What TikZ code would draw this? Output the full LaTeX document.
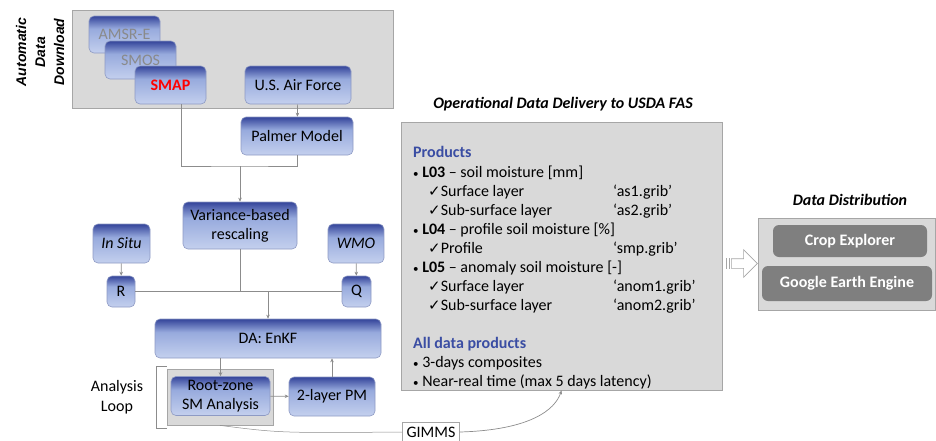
\documentclass[tikz,border=0pt]{standalone}
\usepackage{fontspec}
\setmainfont{Carlito}
\newfontfamily\arialfont{Liberation Sans}
\newfontfamily\symfont{DejaVu Sans}
\usetikzlibrary{arrows.meta,positioning,calc,shapes.arrows}
\definecolor{BlueTop}{HTML}{34449A}
\definecolor{BlueMid}{HTML}{97AADD}
\definecolor{BlueBot}{HTML}{C4D0EE}
\definecolor{BoxLine}{HTML}{8E9AC4}
\definecolor{PanelGray}{HTML}{D9D9D9}
\definecolor{PanelLine}{HTML}{A6A6A6}
\definecolor{LinkGray}{HTML}{8C8C8C}
\definecolor{DarkGray}{HTML}{7F7F7F}
\definecolor{HeadBlue}{HTML}{3A4DA3}
\definecolor{FadeText}{HTML}{8A8A8A}
\pgfdeclareverticalshading{boxshade}{100bp}{color(0bp)=(BlueBot); color(25bp)=(BlueBot); color(58bp)=(BlueMid); color(75bp)=(BlueTop); color(100bp)=(BlueTop)}
\newcommand{\okmark}{{\symfont\fontsize{15}{15}\selectfont ✓}}
\newcommand{\smbul}{{\fontsize{11}{11}\selectfont\textbullet}\ }
\newcommand{\filecol}[2]{\makebox[200pt][l]{\hspace*{15pt}\okmark #1}#2}

\begin{document}
\begin{tikzpicture}[x=1pt,y=-1pt,
      blk/.style={draw=BoxLine,line width=0.6pt,rounded corners=5pt,
                  shading=boxshade,align=center,inner sep=1pt,
                  font=\fontsize{16}{19}\selectfont},
      panel/.style={draw=PanelLine,fill=PanelGray,line width=0.8pt},
      grayblk/.style={fill=DarkGray,rounded corners=6pt,text=white,
                      font=\fontsize{16}{19}\selectfont\bfseries},
      ttl/.style={font=\fontsize{16}{19}\selectfont\bfseries\itshape},
      link/.style={draw=LinkGray,line width=0.7pt},
      arr/.style={link,-{Stealth[length=4pt,width=3.5pt]}},
    ]
    \useasboundingbox (0,0) rectangle (936,440);

    % automatic download
    \node[panel,minimum width=321,minimum height=98] (dlpanel) at (232.5,59) {};
    \node[rotate=90,align=center,inner sep=0,
          font=\arialfont\fontsize{14}{19}\selectfont\bfseries\itshape] (dltitle) at (40,52)
         {Automatic\\Data\\Download};
    \node[blk,minimum width=71,minimum height=37,text=FadeText] (amsr) at (124.5,34.5) {AMSR-E};
    \node[blk,minimum width=71,minimum height=38,text=FadeText] (smos) at (140.5,60) {SMOS};
    \node[blk,minimum width=71,minimum height=38,text=red,font=\fontsize{16}{19}\selectfont\bfseries] (smap) at (170.5,85) {SMAP};
    \node[blk,minimum width=106,minimum height=38] (usaf) at (298,85) {U.S. Air Force};
    \node[blk,minimum width=112,minimum height=38] (palmer) at (297,136) {Palmer Model};

    % rescaling and errors
    \node[blk,minimum width=114,minimum height=47] (vbr) at (240,225.5) {Variance-based\\rescaling};
    \node[blk,minimum width=57,minimum height=39,font=\fontsize{16}{19}\selectfont\itshape] (insitu) at (121.5,243.5) {In Situ};
    \node[blk,minimum width=56,minimum height=39,font=\fontsize{16}{19}\selectfont\itshape] (wmo) at (356,243.5) {WMO};
    \node[blk,minimum width=28,minimum height=31] (rerr) at (121,291.5) {R};
    \node[blk,minimum width=29,minimum height=31] (qerr) at (356.5,291.5) {Q};

    % assimilation loop
    \node[blk,minimum width=226,minimum height=39] (enkf) at (268,338.5) {DA: EnKF};
    \node[panel,minimum width=106,minimum height=56] (loopbox) at (220,397) {};
    \node[blk,minimum width=99,minimum height=39] (rzsm) at (220.5,396) {Root-zone\\SM Analysis};
    \node[blk,minimum width=86,minimum height=39] (pm) at (332,396.5) {2-layer PM};
    \node[align=center,font=\fontsize{16}{20}\selectfont] (looplbl) at (117,397) {Analysis\\Loop};
    \node[draw=PanelLine,fill=white,line width=0.6pt,minimum width=57,minimum height=20,
          inner sep=1pt,font=\fontsize{16}{19}\selectfont] (gimms) at (431,432) {GIMMS};

    % connectors
    \coordinate (merge) at (240,166);
    \draw[link] ([xshift=11pt]smap.south) |- (merge) -| (palmer.south);
    \draw[arr] (merge) -- (vbr.north);
    \draw[arr] (usaf) -- (palmer);
    \draw[arr] (insitu) -- (rerr);
    \draw[arr] (wmo) -- (qerr);
    \draw[link] (rerr.east) -- (qerr.west);
    \draw[link] (vbr.south) -- (vbr.south |- rerr.east);
    \draw[arr] (enkf.north |- rerr.east) -- (enkf.north);
    \draw[arr] (enkf.south -| rzsm.north) -- (rzsm.north);
    \draw[arr] (rzsm) -- (pm);
    \draw[arr] (pm.north) -- (pm.north |- enkf.south);
    \draw[link,line width=0.5pt] ([yshift=2pt]loopbox.north west) -- ++(-10,0)
          |- ([yshift=-3pt]loopbox.south west);
    \draw[link,line width=0.5pt] (loopbox.south) .. controls (280,433) .. (gimms.west);

    % delivery
    \node[ttl] (deltitle) at (563,104) {Operational Data Delivery to USDA FAS};
    \node[panel,minimum width=321,minimum height=268] (prod) at (561.5,256) {};
    \node[anchor=north west,inner sep=0,align=left,font=\fontsize{16}{19}\selectfont] (prodtext) at (413,146) {%
      {\color{HeadBlue}\bfseries Products}\\[1pt]
      \smbul\textbf{L03} -- soil moisture [mm]\\
      \filecol{Surface layer}{‘as1.grib’}\\
      \filecol{Sub-surface layer}{‘as2.grib’}\\
      \smbul\textbf{L04} -- profile soil moisture [\%]\\
      \filecol{Profile}{‘smp.grib’}\\
      \smbul\textbf{L05} -- anomaly soil moisture [-]\\
      \filecol{Surface layer}{‘anom1.grib’}\\
      \filecol{Sub-surface layer}{‘anom2.grib’}\\[19pt]
      {\color{HeadBlue}\bfseries All data products}\\
      \smbul 3-days composites\\
      \smbul Near-real time (max 5 days latency)};
    \draw[arr] (gimms.east) .. controls (530,430) and (555,410) .. (prod.south);

    % distribution
    \node[single arrow,draw=PanelLine,fill=white,line width=0.6pt,minimum height=26,
          inner xsep=0,inner ysep=4.5pt,single arrow head extend=9pt] (deliver) at (742,263.5) {};
    \draw[draw=PanelLine,line width=0.6pt] ([xshift=-2pt]deliver.after tail) -- ([xshift=-2pt]deliver.before tail)
          ([xshift=-4.5pt]deliver.after tail) -- ([xshift=-4.5pt]deliver.before tail);
    \node[ttl] (disttitle) at (850,200) {Data Distribution};
    \node[panel,minimum width=177,minimum height=92] (dist) at (846.5,264) {};
    \node[grayblk,minimum width=154,minimum height=32] (cropx) at (850,241) {Crop Explorer};
    \node[grayblk,minimum width=170,minimum height=35] (gee) at (847,283.5) {Google Earth Engine};
  \end{tikzpicture}
\end{document}
